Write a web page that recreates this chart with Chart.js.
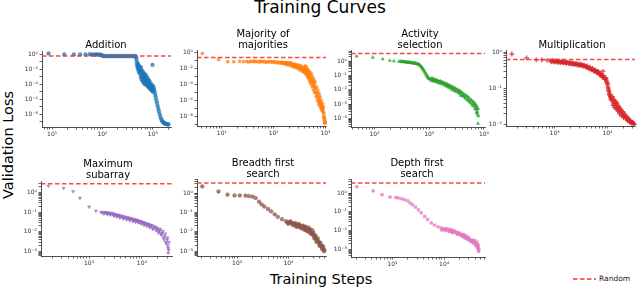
<!DOCTYPE html>
<html lang="en">
<head>
<meta charset="UTF-8" />
<title>Training Curves</title>
<script src="https://cdn.jsdelivr.net/npm/chart.js"></script>
<style>
  html, body { margin: 0; padding: 0; background: #fff; }
  body { width: 640px; height: 289px; position: relative; overflow: hidden; font-family: "DejaVu Sans", sans-serif; color: #000; }
  canvas, .lbl { position: absolute; }
  .lbl { white-space: nowrap; text-align: center; line-height: 1.1; }
  .sub { font-size: 10px; transform: translateX(-50%); }
  #legend { position: absolute; left: 573px; top: 274px; font-size: 7.5px; color: #222; }
  #legend svg { vertical-align: middle; margin-right: 3px; }
</style>
</head>
<body>
<div class="lbl" style="left:0;width:640px;top:-2px;font-size:17px;">Training Curves</div>
<div class="lbl" style="left:321px;top:272px;font-size:14.5px;transform:translateX(-50%);">Training Steps</div>
<div class="lbl" style="left:9px;top:145px;font-size:14.5px;transform:translate(-50%,-50%) rotate(-90deg);">Validation Loss</div>
<div id="legend"><svg width="23" height="4"><line x1="0" y1="2" x2="23" y2="2" stroke="#ee3b3b" stroke-width="1.5" stroke-dasharray="4.5 2.5"/></svg>Random</div>

<script>
// ---- data: [training steps, validation loss] ----
const additionPts = [[8.5,1.35],[17.5,1.0],[27,1.0],[36,1.0],[46,1.0],[56,1.05],[62,0.95],[68,1.0],[73,0.9],[78,1.0],[84,0.95],[90,0.9],[96,0.85],[100,0.65],
  [105,0.6],[112,0.61],[120,0.6],[128,0.59],[137,0.6],[146,0.6],[156,0.61],[167,0.6],[178,0.59],[190,0.6],[203,0.6],[217,0.61],[232,0.6],[248,0.59],[265,0.6],[283,0.6],[302,0.61],[322,0.6],[344,0.59],[367,0.6],[392,0.6],[418,0.59],[446,0.58],
  [460,0.5],[470,0.3],[478,0.12],[485,0.05],[495,0.02],[500,0.06],[505,0.03],[512,0.025],[515,0.01],[520,0.04],[525,0.005],[530,0.012],[535,0.02],[542,0.008],[548,0.003],[560,0.008],[572,0.001],
  [580,2e-2],[585,0.004],[590,8e-3],[598,5e-4],[600,3e-3],[610,2e-3],[615,6e-3],[622,3e-4],[628,1.5e-3],[635,1e-3],[640,4e-3],[648,2e-4],[655,8e-4],[660,6e-4],[668,2.5e-3],[672,1.5e-4],[680,5e-4],[685,4e-4],[692,1.2e-3],[698,1e-4],
  [705,3e-4],[710,8e-4],[715,2e-3],[722,2e-4],[728,6e-4],[735,5e-4],[742,2.5e-4],[748,1e-4],[755,1e-3],[760,3e-4],[768,4e-4],[775,7e-5],[782,1.5e-4],[790,2e-4],[795,6e-4],[805,5e-5],[812,2.5e-4],[820,1.5e-4],[828,8e-5],[835,4e-5],[845,3e-4],[850,1e-4],[862,1e-4],[870,3e-5],[880,4e-5],[890,8e-5],[900,1.5e-4],[910,2e-5],[920,5e-5],[935,5e-5],[945,2e-5],[960,1.5e-5],[970,8e-5],[985,0.04],[1000,1e-5],[1010,2e-5],[1020,5e-5],
  [1040,3e-5],[1070,1.5e-5],[1100,6e-6],[1130,2.5e-6],[1160,1e-6],[1200,4e-7],[1240,1.5e-7],[1280,6e-8],[1320,2.5e-8],[1370,1e-8],[1420,4e-9],[1480,2e-9],[1540,1.2e-9],[1600,9e-10],[1660,7e-10],[1730,6e-10],[1800,5.5e-10],[1880,5e-10],[1960,4.5e-10],[2050,4.5e-10]];

const majorityPts = [[4.2,0.75],[8.6,0.13],[13,0.07],[17,0.07],[22,0.08],[26,0.07],
  [30,0.075],[33,0.065],[36,0.08],[39,0.07],[42,0.085],[45,0.07],[49,0.075],[53,0.065],[57,0.08],[61,0.07],[66,0.075],[71,0.06],[76,0.07],[82,0.065],[88,0.075],[94,0.06],[100,0.07],[107,0.055],[114,0.065],[122,0.05],[130,0.06],[138,0.045],
  [145,0.06],[147,0.05],[156,0.04],[160,0.055],[166,0.045],[172,0.05],[176,0.03],[183,0.055],[187,0.04],[195,0.04],[198,0.025],[205,0.045],[210,0.05],[215,0.035],[222,0.02],[228,0.04],[235,0.03],[240,0.025],[248,0.015],[255,0.035],[262,0.025],[268,0.02],[276,0.012],[282,0.03],[290,0.02],[296,0.015],
  [305,0.008],[312,0.025],[320,0.015],[328,0.01],[335,0.006],[342,0.02],[350,0.01],[358,0.008],[366,0.004],[374,0.015],[382,0.008],[390,0.005],[398,0.003],[405,0.01],
  [410,0.02],[415,0.008],[420,0.002],[425,0.015],[432,0.006],[438,0.003],[445,0.001],[450,0.008],[458,0.004],[462,0.0015],[470,5e-4],[475,0.005],[485,0.002],[490,8e-4],[500,2e-4],[505,0.003],[515,1e-3],[520,4e-4],[530,1e-4],[538,0.002],[545,4e-4],[552,2e-4],[560,5e-5],[568,8e-4],[575,2e-4],[582,1e-4],[590,2e-5],[598,4e-4],
  [605,1e-4],[612,5e-5],[620,1e-5],[630,2e-4],[640,3e-5],[650,1e-5],[660,3e-6],[670,5e-5],[680,1e-5],[690,5e-6],[700,1e-6],[710,2e-5],[720,4e-6],[730,1.5e-6],[740,4e-7],[750,8e-6],[760,1.5e-6],[770,7e-7],[780,2e-7],[790,3e-6],[800,6e-7],[810,3e-7],[820,1e-7],[830,1e-6],[840,3e-7],[850,1.5e-7],[860,6e-8],[870,4e-7],[880,1.5e-7],[890,7e-8],[900,3e-8],[910,1.5e-7],[920,1e-8],[930,3e-8],[940,5e-9],[950,1e-8],[960,2e-9],[970,4e-9],[980,1.5e-9],[990,2e-9]];

const activityPts = [[47,2.2],[93,1.8],[141,1.38],[190,1.1],[226,1.0],[280,0.95],
  [300,0.95],[310,0.9],[320,0.92],[330,0.95],[340,0.9],[355,0.85],[365,0.88],[380,0.9],[390,0.85],[405,0.8],[415,0.83],[430,0.85],[440,0.8],[455,0.76],[470,0.78],[485,0.8],[500,0.75],[515,0.7],[530,0.72],[545,0.74],[560,0.7],[580,0.66],[600,0.65],[620,0.62],[640,0.6],[660,0.55],[680,0.5],
  [700,0.45],[720,0.4],[740,0.35],[760,0.3],[780,0.26],[800,0.22],[825,0.18],[850,0.15],[875,0.12],[900,0.1],[925,0.085],[950,0.075],[975,0.065],[1000,0.06],
  [1050,0.055],[1080,0.045],[1100,0.06],[1130,0.065],[1150,0.048],[1180,0.04],[1200,0.052],[1240,0.055],[1260,0.045],[1300,0.038],[1320,0.05],[1360,0.046],[1380,0.04],[1420,0.032],[1450,0.044],[1490,0.04],[1520,0.036],[1560,0.028],[1600,0.04],[1640,0.035],[1680,0.032],[1720,0.025],[1760,0.035],[1800,0.03],
  [1850,0.026],[1900,0.021],[1950,0.03],[2000,0.026],[2050,0.022],[2100,0.017],[2150,0.025],[2200,0.022],[2260,0.018],[2320,0.014],[2380,0.02],[2440,0.018],[2500,0.014],[2560,0.011],[2620,0.017],[2700,0.015],[2750,0.011],[2830,0.009],[2900,0.014],[2980,0.012],[3050,0.009],[3120,0.0075],[3200,0.011],[3300,0.01],[3400,0.007],
  [3480,0.006],[3550,0.009],[3620,0.008],[3700,0.005],[3800,0.004],[3900,0.007],[4000,0.006],[4100,0.004],[4200,0.0035],[4300,0.005],[4400,0.0045],[4500,0.003],[4620,0.0025],[4750,0.004],[4870,0.0035],[5000,0.002],[5120,0.0018],[5250,0.003],[5370,0.0025],[5500,0.0015],[5650,0.0012],[5800,0.002],[5950,0.0018],
  [6100,0.001],[6250,8e-4],[6400,0.0015],[6550,0.0012],[6700,7e-4],[6850,5e-4],[7000,0.001],[7100,8e-4],[7200,4e-4],[7300,2.5e-4],[7400,7e-4],[7500,5e-4],[7600,3e-4],[7700,2e-4],[7800,5e-4],[7900,1.5e-4],[7800,4.5e-5]];

const multiplicationPts = [[155,0.9],[295,0.7],[450,0.62],[575,0.62],[720,0.6],
  [840,0.58],[870,0.55],[900,0.57],[930,0.59],[960,0.57],[990,0.54],[1020,0.56],[1055,0.58],[1090,0.56],[1125,0.53],[1160,0.55],[1200,0.57],[1240,0.55],[1280,0.52],[1320,0.54],[1365,0.56],[1410,0.54],[1455,0.51],[1500,0.53],[1550,0.55],[1600,0.52],[1650,0.5],[1700,0.52],[1755,0.53],[1810,0.51],[1870,0.49],[1930,0.5],[1990,0.52],
  [2050,0.5],[2115,0.47],[2180,0.49],[2250,0.5],[2320,0.48],[2400,0.46],[2470,0.48],[2550,0.49],[2630,0.47],[2720,0.44],[2800,0.46],[2890,0.47],[2980,0.46],[3060,0.43],[3150,0.45],[3250,0.46],
  [3350,0.44],[3450,0.41],[3550,0.43],[3660,0.44],[3780,0.41],[3890,0.39],[4000,0.4],[4120,0.42],[4250,0.38],[4370,0.36],[4500,0.37],[4650,0.39],[4800,0.35],[4950,0.33],[5100,0.34],[5250,0.36],[5400,0.32],[5580,0.3],[5750,0.31],[5920,0.33],[6100,0.3],[6300,0.27],[6500,0.28],[6700,0.3],
  [6900,0.27],[7100,0.24],[7300,0.25],[7500,0.26],[7700,0.23],[7900,0.21],[8100,0.22],[8200,0.3],[8350,0.23],[8600,0.2],[8850,0.18],[9100,0.18],[9350,0.2],[9600,0.17],[9750,0.15],
  [9900,0.14],[10050,0.13],[10200,0.11],[10350,0.1],[10500,0.09],[10650,0.085],[10800,0.075],[10950,0.07],[11100,0.065],[11300,0.06],[11500,0.055],[11700,0.05],[12000,0.048],
  [12200,0.055],[12500,0.06],[12700,0.035],[12800,0.04],[13100,0.05],[13300,0.045],[13600,0.03],[13800,0.035],[14100,0.045],[14300,0.04],[14600,0.028],[14800,0.03],[15100,0.04],[15400,0.035],[15700,0.024],[16000,0.025],[16300,0.032],[16700,0.03],[17000,0.02],[17400,0.022],[17700,0.027],[18100,0.025],[18500,0.018],[18900,0.019],[19300,0.023],[19700,0.022],[20100,0.016],[20600,0.017],[21000,0.02],[21500,0.018],
  [22000,0.015],[22500,0.016],[23000,0.017],[23500,0.015],[24000,0.013],[24600,0.014],[25100,0.015],[25700,0.013],[26300,0.012],[26900,0.0125],[27500,0.013],[28100,0.012],[28700,0.011],[29400,0.0115],[30000,0.012],[30700,0.011],[31300,0.0105],[32000,0.0105]];

const maxSubarrayPts = [[170,2.2],[330,1.7],[500,1.16],[670,0.53],[1000,0.19],[1350,0.117],[1680,0.1],
  [1800,0.1],[1900,0.085],[1950,0.09],[2050,0.1],[2100,0.095],[2200,0.08],[2250,0.085],[2350,0.095],[2400,0.09],[2500,0.075],[2600,0.08],[2700,0.09],[2800,0.085],[2900,0.068],[3000,0.07],[3100,0.08],[3200,0.075],[3320,0.06],[3450,0.065],[3570,0.073],[3700,0.07],[3820,0.053],[3950,0.058],[4100,0.066],[4250,0.062],[4400,0.048],[4550,0.052],[4720,0.06],[4900,0.056],[5070,0.043],[5250,0.046],[5450,0.054],[5650,0.05],[5850,0.039],[6050,0.042],[6270,0.05],[6500,0.046],[6750,0.035],[7000,0.038],[7170,0.044],[7350,0.041],
  [7600,0.032],[7800,0.036],[8050,0.041],[8300,0.038],[8550,0.029],[8800,0.032],[9100,0.036],[9400,0.034],[9700,0.026],[10000,0.028],[10300,0.032],[10600,0.03],[10950,0.022],[11300,0.025],[11650,0.028],[12000,0.027],[12400,0.02],[12800,0.022],[13200,0.025],[13600,0.024],[14000,0.017],[14500,0.019],[14950,0.022],[15400,0.021],[15950,0.014],[16500,0.016],[17100,0.019],[17800,0.018],
  [18400,0.012],[19000,0.014],[19600,0.016],[20200,0.011],[20800,0.009],[21500,0.012],[22100,0.014],[22800,0.008],[23500,0.007],[24200,0.009],[24900,0.011],[25600,0.005],[26300,0.004],[27000,0.006],[27700,0.008],[28500,0.003],[29200,0.0025],[30000,0.004],[30500,0.005],[31000,0.002],[31500,0.0015],[32000,0.0012],[32500,0.003],[31500,0.00085]];

const bfsPts = [[210,2.2],[435,1.2],[650,0.82],[890,0.75],[1130,0.75],[1460,0.73],[1700,0.7],[2000,0.66],[2300,0.55],[2680,0.36],[3000,0.26],[3400,0.2],[4000,0.15],[4600,0.114],[5400,0.08],[6200,0.059],[7500,0.045],[9000,0.035],
  [9500,0.03],[10000,0.026],[10200,0.03],[10800,0.034],[11000,0.032],[11500,0.028],[12200,0.022],[12500,0.027],[13000,0.025],[13600,0.028],[14000,0.019],[14200,0.022],[15000,0.018],[15300,0.021],[15600,0.025],[16000,0.024],[16500,0.02],[17000,0.019],[17300,0.016],[18000,0.018],[18500,0.015],[18800,0.021],[19500,0.017],[20000,0.019],[20300,0.013],
  [21000,0.015],[21500,0.012],[21800,0.018],[22600,0.014],[23000,0.016],[23400,0.011],[24200,0.013],[24600,0.01],[25000,0.016],[26000,0.011],[26500,0.013],[27000,0.008],[28000,0.009],[28500,0.008],[29000,0.012],[30000,0.007],[30500,0.009],[31200,0.006],[32000,0.0045],[32500,0.0055],[33500,0.0065],[34000,0.005],[35000,0.003],[35300,0.004],
  [36500,0.0035],[37000,0.0045],[38000,0.003],[39500,0.0028],[40000,0.0019],[41000,0.0022],[42000,0.0027],[43000,0.002],[44500,0.0017],[45000,0.0013],[46000,0.0015],[47000,0.0018],[48000,0.0013],[49000,0.001],[50000,0.0011]];

const dfsPts = [[205,2.2],[425,1.3],[630,0.81],[900,0.61],[1160,0.58],[1300,0.55],[1500,0.5],[1700,0.45],[1960,0.39],[2200,0.3],[2460,0.24],[2800,0.18],[3180,0.13],[3600,0.09],[4200,0.058],[4800,0.04],[5650,0.026],[6500,0.02],[7600,0.016],[8800,0.014],
  [9000,0.011],[9500,0.012],[10200,0.013],[10500,0.0105],[11000,0.0115],[11500,0.013],[12000,0.011],[12500,0.009],[13000,0.0095],[13500,0.012],[14000,0.01],[14500,0.008],[15000,0.0085],[15500,0.01],[16200,0.009],[17000,0.0085],[17500,0.0076],[18000,0.0065],[18800,0.007],[19500,0.0078],[20200,0.0068],[21000,0.0062],[21600,0.0058],[22300,0.0052],[23000,0.006],[23700,0.0065],
  [24300,0.0048],[25000,0.0045],[25500,0.0042],[26200,0.0055],[27000,0.0045],[27700,0.0039],[28500,0.0036],[29200,0.0045],[30000,0.0038],[31000,0.0033],[32000,0.003],[33000,0.0027],[34000,0.0032],[35000,0.003],[36000,0.0025],[37000,0.0022],[38000,0.0027],[39000,0.0031],[40000,0.0022],[41000,0.0016],[42000,0.0018],[43000,0.0025],[43500,0.0019],[44000,0.0014],[45000,0.0013],[45500,0.0011],[46000,0.0017],[46500,0.0008],[47000,0.001]];

const titles = [['Addition'], ['Majority of', 'majorities'], ['Activity', 'selection'], ['Multiplication'],
                ['Maximum', 'subarray'], ['Breadth first', 'search'], ['Depth first', 'search']];
const series = [additionPts, majorityPts, activityPts, multiplicationPts, maxSubarrayPts, bfsPts, dfsPts];
const randomLoss = [0.59, 0.24, 3.45, 0.63, 2.87, 3.26, 3.38];

// tick labels (value, text)
const xTickVals = [[10, 100, 1000], [10, 100, 1000], [100, 1000, 10000], [1000, 10000], [1000, 10000], [1000, 10000], [1000, 10000]];
const xTickText = [['10¹', '10²', '10³'], ['10¹', '10²', '10³'], ['10²', '10³', '10⁴'], ['10³', '10⁴'], ['10³', '10⁴'], ['10³', '10⁴'], ['10³', '10⁴']];
const yTickVals = [[1, 1e-2, 1e-4, 1e-6, 1e-8], [1, 1e-2, 1e-4, 1e-6, 1e-8], [1, 1e-1, 1e-2, 1e-3, 1e-4], [1, 1e-1, 1e-2],
                   [1, 1e-1, 1e-2, 1e-3], [1, 1e-1, 1e-2, 1e-3], [1, 1e-1, 1e-2, 1e-3]];
const yTickText = [['10⁰', '10⁻²', '10⁻⁴', '10⁻⁶', '10⁻⁸'], ['10⁰', '10⁻²', '10⁻⁴', '10⁻⁶', '10⁻⁸'], ['10⁰', '10⁻¹', '10⁻²', '10⁻³', '10⁻⁴'], ['10⁰', '10⁻¹', '10⁻²'],
                   ['10⁰', '10⁻¹', '10⁻²', '10⁻³'], ['10⁰', '10⁻¹', '10⁻²', '10⁻³'], ['10⁰', '10⁻¹', '10⁻²', '10⁻³']];

// ---- layout / style ----
// axis limits as log10 exponents
const xLim = [[0.8, 3.36], [0.52, 3.01], [1.57, 4.02], [2.08, 4.52], [2.09, 4.57], [2.22, 4.73], [2.2, 4.79]];
const yLim = [[-9.69, 0.44], [-9.16, 0.29], [-4.59, 0.77], [-2.03, 0.05], [-3.23, 0.59], [-3.25, 0.72], [-3.39, 0.74]];
// plot boxes in page pixels: left, top, right, bottom
const boxes = [[42, 51, 171, 127], [197, 50, 326, 126], [351, 50, 485, 126.7], [506, 50, 635, 126],
               [41, 180.7, 172, 256], [197, 179.3, 326, 256.7], [351, 179.3, 485, 257.3]];
const titleCenter = [[106, 39], [263, 28], [420, 28], [572, 39], [108, 157.5], [263, 157], [417, 157]];
const colors = ['#1f77b4', '#ff7f0e', '#2ca02c', '#d62728', '#9467bd', '#8c564b', '#e377c2'];
const markers = ['circle', 'rect', 'triangle', 'cross', 'triangle', 'circle', 'rect'];
const rotations = [0, 0, 0, 0, 180, 0, 0];
const yMinor = [false, false, true, true, true, true, true];

const YW = 28, XH = 12, PT = 5, PR = 8;

function logTicks(lim, minor) {
  const out = [];
  for (let e = Math.floor(lim[0]); e <= Math.ceil(lim[1]); e++) {
    for (let m = 1; m < 10; m++) {
      if (m > 1 && !minor) continue;
      const lv = Math.log10(m) + e;
      if (lv >= lim[0] && lv <= lim[1]) out.push({ value: m * Math.pow(10, e) });
    }
  }
  return out;
}

function labelFor(v, vals, texts) {
  for (let i = 0; i < vals.length; i++) {
    if (Math.abs(Math.log10(v) - Math.log10(vals[i])) < 1e-6) return texts[i];
  }
  return '';
}

function hexA(hex, a) {
  const n = parseInt(hex.slice(1), 16);
  return `rgba(${n >> 16},${(n >> 8) & 255},${n & 255},${a})`;
}

series.forEach((pts, i) => {
  const b = boxes[i];
  const cv = document.createElement('canvas');
  const w = Math.round(b[2] - b[0] + YW + PR), h = Math.round(b[3] - b[1] + PT + XH);
  cv.width = w; cv.height = h;
  cv.style.left = (b[0] - YW) + 'px';
  cv.style.top = (b[1] - PT) + 'px';
  document.body.appendChild(cv);

  const t = document.createElement('div');
  t.className = 'lbl sub';
  t.style.left = titleCenter[i][0] + 'px';
  t.style.top = titleCenter[i][1] + 'px';
  t.innerHTML = titles[i].join('<br>');
  document.body.appendChild(t);

  const xmin = Math.pow(10, xLim[i][0]), xmax = Math.pow(10, xLim[i][1]);
  const axisCommon = {
    type: 'logarithmic',
    border: { display: true, color: '#222', width: 0.8 },
    grid: { drawOnChartArea: false, drawTicks: true, tickLength: 2.5, color: '#222', lineWidth: 0.7 },
  };
  const isCross = markers[i] === 'cross';

  new Chart(cv, {
    type: 'scatter',
    data: {
      datasets: [
        {
          data: [{ x: xmin, y: randomLoss[i] }, { x: xmax, y: randomLoss[i] }],
          showLine: true, pointRadius: 0, borderColor: 'rgba(238,55,55,0.9)',
          borderWidth: 1.5, borderDash: [4.5, 2.5], order: 0
        },
        {
          data: pts.map(p => ({ x: p[0], y: p[1] })),
          pointStyle: markers[i], pointRotation: rotations[i],
          pointRadius: isCross ? 2.4 : 1.9,
          backgroundColor: hexA(colors[i], 0.75), borderColor: hexA(colors[i], 0.75),
          borderWidth: isCross ? 1.5 : 0.5, clip: false, order: 1
        }
      ]
    },
    options: {
      responsive: false, animation: false, events: [],
      layout: { padding: { top: PT, right: PR, left: 0, bottom: 0 } },
      plugins: { legend: { display: false }, tooltip: { enabled: false } },
      scales: {
        x: Object.assign({}, axisCommon, {
          min: xmin, max: xmax,
          afterBuildTicks: s => { s.ticks = logTicks(xLim[i], true); },
          afterFit: s => { s.height = XH; },
          ticks: { autoSkip: false, maxRotation: 0, padding: 1, color: '#333',
                   font: { family: 'DejaVu Sans', size: 6 },
                   callback: v => labelFor(v, xTickVals[i], xTickText[i]) }
        }),
        y: Object.assign({}, axisCommon, {
          min: Math.pow(10, yLim[i][0]), max: Math.pow(10, yLim[i][1]),
          afterBuildTicks: s => { s.ticks = logTicks(yLim[i], yMinor[i]); },
          afterFit: s => { s.width = YW; },
          ticks: { autoSkip: false, padding: 1.5, color: '#333',
                   font: { family: 'DejaVu Sans', size: 6 },
                   callback: v => labelFor(v, yTickVals[i], yTickText[i]) }
        })
      }
    }
  });
});
</script>
</body>
</html>
